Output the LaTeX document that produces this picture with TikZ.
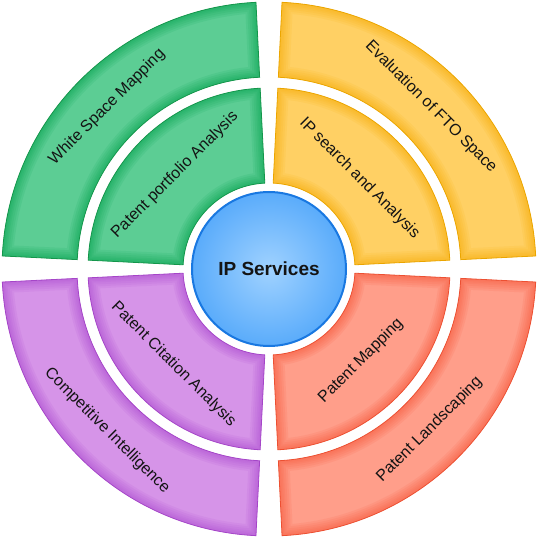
\documentclass[tikz,border=0pt]{standalone}
\usepackage{fontspec}
\setmainfont{Liberation Sans}
\definecolor{GreenD}{RGB}{0,160,76}
\definecolor{GreenL}{RGB}{92,205,148}
\definecolor{GreenE}{RGB}{20,150,75}
\definecolor{YelD}{RGB}{250,172,0}
\definecolor{YelL}{RGB}{255,208,100}
\definecolor{YelE}{RGB}{235,165,0}
\definecolor{RedD}{RGB}{250,84,54}
\definecolor{RedL}{RGB}{255,158,138}
\definecolor{RedE}{RGB}{236,80,50}
\definecolor{PurD}{RGB}{172,72,208}
\definecolor{PurL}{RGB}{214,148,232}
\definecolor{PurE}{RGB}{165,70,200}
\definecolor{BlueC}{RGB}{160,210,255}
\definecolor{BlueM}{RGB}{76,164,250}
\definecolor{BlueO}{RGB}{36,138,242}
\definecolor{BlueE}{RGB}{25,120,225}
\definecolor{TextC}{RGB}{20,20,20}
\pgfdeclareradialshading{ipball}{\pgfpoint{0bp}{0bp}}{color(0bp)=(BlueC); color(30bp)=(BlueM); color(50bp)=(BlueO)}
% one annular sector path, drawn with the given options
\newcommand\secpath[5]{\path[#5] (#1:#3) arc[start angle=#1, end angle=#2, radius=#3] -- (#2:#4) arc[start angle=#2, end angle=#1, radius=#4] -- cycle;}
% a glossy sector: light fill, soft darker inner band along the edges, thin outline
\newcommand\annsec[5]{%
  \secpath{#1}{#2}{#3}{#4}{fill=#5L}
  \begin{scope}
    \secpath{#1}{#2}{#3}{#4}{clip}
    \foreach \w in {22,18,14,10,7,4}{%
      \secpath{#1}{#2}{#3}{#4}{draw=#5D, line width=\w pt, opacity=0.11}
    }
  \end{scope}
  \secpath{#1}{#2}{#3}{#4}{draw=#5E, line width=0.8pt}
}
\tikzset{
  lbl/.style={text=TextC, font=\fontsize{16}{19}\selectfont, inner sep=0pt},
}
\begin{document}
\begin{tikzpicture}
\useasboundingbox (-269pt,-269pt) rectangle (269pt,269pt);
% inner ring
\annsec{92.8}{177.2}{86pt}{181pt}{Green}
\annsec{2.8}{87.2}{86pt}{181pt}{Yel}
\annsec{-87.2}{-2.8}{86pt}{181pt}{Red}
\annsec{182.8}{267.2}{86pt}{181pt}{Pur}
% outer ring
\annsec{92.8}{177.2}{192pt}{267pt}{Green}
\annsec{2.8}{87.2}{192pt}{267pt}{Yel}
\annsec{-87.2}{-2.8}{192pt}{267pt}{Red}
\annsec{182.8}{267.2}{192pt}{267pt}{Pur}
% centre
\node[circle, minimum size=154pt, inner sep=0pt, shading=ipball, draw=BlueE, line width=2pt,
      font=\fontsize{19}{22}\selectfont\bfseries, text=TextC] (ip) at (0,0) {IP Services};
% labels
\node[lbl, rotate=45] (wsm) at (135:229pt) {White Space Mapping};
\node[lbl, rotate=45] (ppa) at (135:133pt) {Patent portfolio Analysis};
\node[lbl, rotate=-45] (fto) at (45:229pt) {Evaluation of FTO Space};
\node[lbl, rotate=-45] (ipsa) at (45:128pt) {IP search and Analysis};
\node[lbl, rotate=45] (pm) at (-45:130pt) {Patent Mapping};
\node[lbl, rotate=45] (pl) at (-45:227pt) {Patent Landscaping};
\node[lbl, rotate=-45] (pca) at (225:135pt) {Patent Citation Analysis};
\node[lbl, rotate=-45] (ci) at (225:229pt) {Competitive Intelligence};
\end{tikzpicture}
\end{document}
